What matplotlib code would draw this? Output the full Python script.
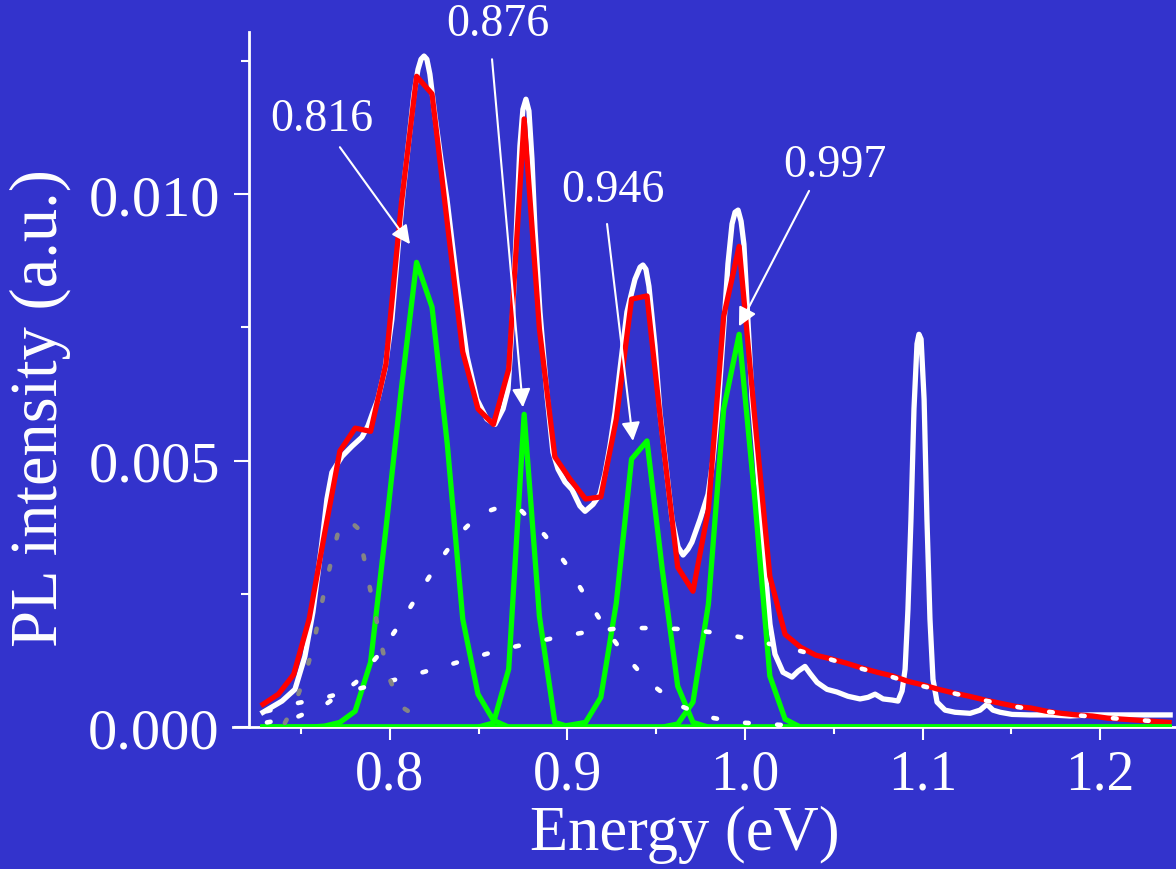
import numpy as np
import matplotlib
matplotlib.use("Agg")
import matplotlib.pyplot as plt

BG = "#3333cc"
plt.rcParams["font.family"] = ["Liberation Serif", "DejaVu Serif"]

# ---------------------------------------------------------------- data
# measured PL spectrum (white)
e_meas = [0.7285, 0.7392, 0.7465, 0.7521, 0.7566, 0.7617, 0.7645, 0.7673, 0.7730, 0.7786,
          0.7842, 0.7876, 0.7904, 0.7932, 0.7972, 0.8011, 0.8045, 0.8073, 0.8107, 0.8135,
          0.8158, 0.8175, 0.8192, 0.8208, 0.8225, 0.8254, 0.8287, 0.8321, 0.8377, 0.8434,
          0.8490, 0.8546, 0.8592, 0.8637, 0.8665, 0.8687, 0.8710, 0.8732, 0.8749, 0.8766,
          0.8783, 0.8800, 0.8817, 0.8845, 0.8885, 0.8918, 0.8947, 0.8986, 0.9025, 0.9070,
          0.9099, 0.9144, 0.9183, 0.9211, 0.9239, 0.9268, 0.9296, 0.9335, 0.9380, 0.9409,
          0.9425, 0.9442, 0.9459, 0.9493, 0.9521, 0.9549, 0.9589, 0.9623, 0.9651, 0.9679,
          0.9701, 0.9747, 0.9792, 0.9820, 0.9848, 0.9876, 0.9904, 0.9927, 0.9944, 0.9961,
          0.9978, 0.9994, 1.0017, 1.0040, 1.0068, 1.0090, 1.0113, 1.0141, 1.0169, 1.0214,
          1.0265, 1.0299, 1.0338, 1.0366, 1.0406, 1.0462, 1.0518, 1.0580, 1.0648, 1.0693,
          1.0733, 1.0778, 1.0828, 1.0862, 1.0885, 1.0902, 1.0918, 1.0935, 1.0952, 1.0969,
          1.0980, 1.0992, 1.1009, 1.1025, 1.1042, 1.1059, 1.1082, 1.1127, 1.1183, 1.1268,
          1.1324, 1.1363, 1.1397, 1.1437, 1.1504, 1.1606, 1.1718, 1.1831, 1.1944, 1.2056,
          1.2169, 1.2282, 1.2395]
pl_meas = [0.00028, 0.00049, 0.00071, 0.00133, 0.00216, 0.00347, 0.00428, 0.00478, 0.00508, 0.00527,
           0.00544, 0.00565, 0.00591, 0.00615, 0.00672, 0.00765, 0.00897, 0.01000, 0.01103, 0.01188,
           0.01234, 0.01253, 0.01259, 0.01253, 0.01225, 0.01146, 0.01066, 0.00991, 0.00835, 0.00696,
           0.00615, 0.00578, 0.00568, 0.00597, 0.00634, 0.00747, 0.00915, 0.01090, 0.01159, 0.01178,
           0.01156, 0.01066, 0.00934, 0.00779, 0.00621, 0.00516, 0.00484, 0.00460, 0.00446, 0.00415,
           0.00405, 0.00418, 0.00437, 0.00475, 0.00527, 0.00591, 0.00672, 0.00779, 0.00840, 0.00863,
           0.00867, 0.00859, 0.00827, 0.00715, 0.00591, 0.00508, 0.00390, 0.00338, 0.00323, 0.00334,
           0.00347, 0.00390, 0.00437, 0.00503, 0.00597, 0.00728, 0.00869, 0.00944, 0.00966, 0.00970,
           0.00949, 0.00906, 0.00760, 0.00615, 0.00503, 0.00390, 0.00296, 0.00193, 0.00137, 0.00103,
           0.00094, 0.00105, 0.00114, 0.00101, 0.00084, 0.00071, 0.00066, 0.00058, 0.00053, 0.00056,
           0.00062, 0.00053, 0.00051, 0.00049, 0.00068, 0.00109, 0.00221, 0.00390, 0.00597, 0.00719,
           0.00737, 0.00728, 0.00615, 0.00390, 0.00203, 0.00090, 0.00047, 0.00032, 0.00028, 0.00026,
           0.00032, 0.00043, 0.00032, 0.00028, 0.00024, 0.00023, 0.00023, 0.00021, 0.00023, 0.00023,
           0.00023, 0.00023, 0.00023]

# fit grid, total fit (red)
e_fit = [0.7285, 0.7372, 0.7458, 0.7545, 0.7631, 0.7718, 0.7804, 0.7891, 0.7977, 0.8064,
         0.8150, 0.8237, 0.8323, 0.8410, 0.8496, 0.8583, 0.8669, 0.8756, 0.8842, 0.8929,
         0.9015, 0.9102, 0.9188, 0.9275, 0.9361, 0.9448, 0.9534, 0.9621, 0.9707, 0.9794,
         0.9880, 0.9967, 1.0053, 1.0140, 1.0226, 1.0313, 1.0399, 1.0486, 1.0572, 1.0659,
         1.0745, 1.0832, 1.0918, 1.1005, 1.1091, 1.1178, 1.1264, 1.1351, 1.1437, 1.1524,
         1.1610, 1.1697, 1.1783, 1.1870, 1.1956, 1.2043, 1.2129, 1.2216, 1.2302, 1.2389]
fit_total = [0.00043, 0.00062, 0.00099, 0.00203, 0.00362, 0.00518, 0.00561, 0.00555, 0.00681, 0.00981,
             0.01221, 0.01188, 0.00946, 0.00704, 0.00597, 0.00568, 0.00672, 0.01141, 0.00747, 0.00507,
             0.00465, 0.00428, 0.00432, 0.00578, 0.00803, 0.00809, 0.00546, 0.00300, 0.00255, 0.00409,
             0.00771, 0.00902, 0.00587, 0.00283, 0.00174, 0.00150, 0.00135, 0.00128, 0.00120, 0.00111,
             0.00103, 0.00096, 0.00086, 0.00079, 0.00071, 0.00064, 0.00058, 0.00051, 0.00045, 0.00039,
             0.00036, 0.00030, 0.00026, 0.00023, 0.00021, 0.00017, 0.00015, 0.00013, 0.00011, 0.00009]

# gaussian components (green): non-zero stretch and first grid index
peak_816 = [0.00002, 0.00009, 0.00030, 0.00122, 0.00371, 0.00634, 0.00872, 0.00788, 0.00531,
            0.00203, 0.00062, 0.00013]
peak_876 = [0.00008, 0.00109, 0.00587, 0.00208, 0.00009]
peak_946 = [0.00004, 0.00009, 0.00056, 0.00233, 0.00503, 0.00537, 0.00296, 0.00077, 0.00009]
peak_997 = [0.00006, 0.00047, 0.00231, 0.00597, 0.00737, 0.00437, 0.00096, 0.00015]
peak_start = [4, 15, 20, 27]

# broad components (dotted)
e_broad = [0.7307, 0.7476, 0.7639, 0.7808, 0.7949, 0.8062, 0.8163, 0.8270, 0.8389, 0.8507,
           0.8620, 0.8732, 0.8873, 0.8992, 0.9093, 0.9200, 0.9313, 0.9459, 0.9628, 0.9792,
           0.9961, 1.0124, 1.0310]
pl_broad = [0.00009, 0.00019, 0.00043, 0.00084, 0.00141, 0.00197, 0.00251, 0.00308, 0.00362, 0.00400,
            0.00413, 0.00409, 0.00360, 0.00306, 0.00250, 0.00193, 0.00139, 0.00084, 0.00041, 0.00019,
            0.00009, 0.00006, 0.00002]

e_bg = [0.7307, 0.7476, 0.7639, 0.7808, 0.7972, 0.8141, 0.8304, 0.8473, 0.8637, 0.8806,
        0.8975, 0.9138, 0.9307, 0.9476, 0.9645, 0.9814, 0.9972, 1.0141, 1.0310, 1.0473,
        1.0642, 1.0811, 1.0975, 1.1144, 1.1313, 1.1476, 1.1645, 1.1814, 1.1983, 1.2147,
        1.2316, 1.2383]
pl_bg = [0.00030, 0.00045, 0.00056, 0.00071, 0.00084, 0.00099, 0.00114, 0.00131, 0.00146, 0.00159,
         0.00171, 0.00180, 0.00186, 0.00186, 0.00184, 0.00178, 0.00169, 0.00156, 0.00143, 0.00128,
         0.00111, 0.00096, 0.00079, 0.00066, 0.00053, 0.00041, 0.00032, 0.00024, 0.00019, 0.00015,
         0.00011, 0.00011]

e_low = [0.7408, 0.7459, 0.7521, 0.7566, 0.7600, 0.7634, 0.7673, 0.7713, 0.7763, 0.7820,
         0.7854, 0.7887, 0.7921, 0.7955, 0.7994, 0.8062, 0.8214]
pl_low = [0.00008, 0.00039, 0.00096, 0.00150, 0.00206, 0.00261, 0.00317, 0.00373, 0.00390, 0.00373,
          0.00317, 0.00261, 0.00206, 0.00150, 0.00094, 0.00039, 0.00006]

peak_labels = ["0.816", "0.876", "0.946", "0.997"]

# ---------------------------------------------------------------- plot
fig = plt.figure(figsize=(11.76, 8.7), dpi=100, facecolor=BG)
ax = fig.add_axes([0.198, 0.163, 0.802, 0.799], facecolor=BG)

ax.plot(e_meas, pl_meas, color="white", lw=3.8, zorder=3, solid_joinstyle="round")
ax.plot(e_fit, fit_total, color="red", lw=3.8, zorder=4)

n = len(e_fit)
for vals, i0 in zip([peak_816, peak_876, peak_946, peak_997], peak_start):
    g = np.zeros(n)
    g[i0:i0 + len(vals)] = vals
    ax.plot(e_fit, g, color="#00ff00", lw=3.8, zorder=5)

dots = dict(lw=3.3, ls=(0, (0.8, 6.2)), dash_capstyle="round", zorder=6)
ax.plot(e_broad, pl_broad, color="white", **dots)
ax.plot(e_bg, pl_bg, color="white", **dots)
ax.plot(e_low, pl_low, color="#858585", **dots)

# peak annotations
txt_xy = [(0.7617, 0.01141), (0.8608, 0.01319), (0.9256, 0.01009), (1.0507, 0.01056)]
arr_from = [(0.7718, 0.01088), (0.8575, 0.01253), (0.9223, 0.00944), (1.0361, 0.01006)]
arr_to = [(0.8113, 0.00906), (0.8749, 0.00600), (0.9369, 0.00537), (0.9966, 0.00752)]
for lab, txy, a0, a1 in zip(peak_labels, txt_xy, arr_from, arr_to):
    ax.text(txy[0], txy[1], lab, color="white", fontsize=33, ha="center", va="center",
            zorder=8, clip_on=False)
    ax.annotate("", xy=a1, xytext=a0, zorder=8, annotation_clip=False,
                arrowprops=dict(arrowstyle="-|>", color="white", lw=1.5,
                                mutation_scale=28, shrinkA=0, shrinkB=0))

ax.set_xlim(0.7115, 1.2428)
ax.set_ylim(0, 0.01304)
ax.spines["top"].set_visible(False)
ax.spines["right"].set_visible(False)
ax.spines["left"].set_position(("data", 0.7206))
for s in ("left", "bottom"):
    ax.spines[s].set_color("white")
    ax.spines[s].set_linewidth(2)

ax.set_xticks([0.8, 0.9, 1.0, 1.1, 1.2])
ax.set_xticks([0.75, 0.85, 0.95, 1.05, 1.15], minor=True)
ax.set_yticks([0.0, 0.005, 0.010])
ax.set_yticklabels(["0.000", "0.005", "0.010"])
ax.set_yticks([0.0025, 0.0075, 0.0125], minor=True)
ax.tick_params(axis="both", which="both", colors="white", width=1.5, direction="out")
ax.tick_params(axis="y", which="major", length=11, pad=10, labelsize=42)
ax.tick_params(axis="y", which="minor", length=6)
ax.tick_params(axis="x", which="major", length=9, pad=6, labelsize=40)
ax.tick_params(axis="x", which="minor", length=5)

fig.text(0.5825, 0.040, "Energy (eV)", color="white", fontsize=45, ha="center", va="center")
fig.text(0.034, 0.531, "PL intensity (a.u.)", color="white", fontsize=48, ha="center",
         va="center", rotation=90)

fig.savefig("out.png", dpi=100, facecolor=BG)
